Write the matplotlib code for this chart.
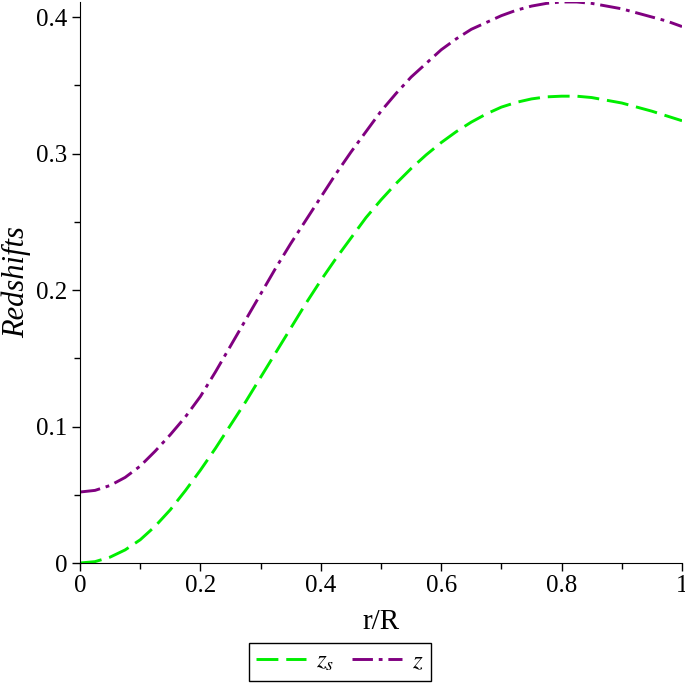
import matplotlib.pyplot as plt
from matplotlib.ticker import MultipleLocator, FormatStrFormatter

# values
r = [0, 0.025, 0.05, 0.075, 0.1, 0.125, 0.15, 0.175, 0.2, 0.225, 0.25,
     0.275, 0.3, 0.325, 0.35, 0.375, 0.4, 0.425, 0.45, 0.475, 0.5,
     0.525, 0.55, 0.575, 0.6, 0.625, 0.65, 0.675, 0.7, 0.725, 0.75,
     0.775, 0.8, 0.825, 0.85, 0.875, 0.9, 0.925, 0.95, 0.975, 1.0]
zs = [0, 0.001, 0.0043, 0.0096, 0.017, 0.027, 0.039, 0.053, 0.068, 0.084, 0.101,
      0.118, 0.136, 0.154, 0.172, 0.190, 0.207, 0.223, 0.238, 0.253, 0.266,
      0.278, 0.289, 0.299, 0.308, 0.316, 0.323, 0.329, 0.334, 0.3375, 0.340,
      0.3415, 0.342, 0.342, 0.341, 0.339, 0.337, 0.334, 0.331, 0.3275, 0.324]
z = [0.052, 0.0532, 0.0568, 0.0627, 0.071, 0.082, 0.094, 0.107, 0.122, 0.140, 0.159,
     0.178, 0.197, 0.216, 0.234, 0.251, 0.268, 0.285, 0.301, 0.316, 0.331,
     0.344, 0.356, 0.366, 0.376, 0.384, 0.391, 0.396, 0.401, 0.405, 0.408,
     0.410, 0.411, 0.411, 0.410, 0.408, 0.406, 0.403, 0.400, 0.397, 0.393]

plt.rcParams['font.family'] = 'serif'
plt.rcParams['font.serif'] = ['Liberation Serif', 'Times New Roman', 'DejaVu Serif']
plt.rcParams['mathtext.fontset'] = 'stix'

fig = plt.figure(figsize=(6.85, 6.88), dpi=100)
ax = fig.add_axes([80/685, 1 - 563/688, 602/685, 561/688])

ax.plot(r, zs, color='#00ee00', lw=2.1, linestyle=(0, (7.5, 2.7)), label='$z_s$')
ax.plot(r, z, color='#800080', lw=2.1, linestyle=(0, (7.0, 2.0, 1.3, 2.0)), label='$z$')

ax.set_xlim(0, 1)
ax.set_ylim(0, 0.411)
ax.spines['top'].set_visible(False)
ax.spines['right'].set_visible(False)
ax.xaxis.set_major_locator(MultipleLocator(0.2))
ax.xaxis.set_minor_locator(MultipleLocator(0.1))
ax.yaxis.set_major_locator(MultipleLocator(0.1))
ax.yaxis.set_minor_locator(MultipleLocator(0.05))
ax.xaxis.set_major_formatter(FormatStrFormatter('%g'))
ax.yaxis.set_major_formatter(FormatStrFormatter('%g'))
ax.tick_params(which='major', direction='out', length=6, width=1, labelsize=18, pad=3)
ax.tick_params(which='minor', direction='out', length=4, width=1)

ax.set_xlabel('r/R', fontsize=21, labelpad=8)
ax.set_ylabel('Redshifts', fontsize=22, style='italic', labelpad=4)

ax.legend(loc='upper center', bbox_to_anchor=(340/685, 1 - 643/688),
          bbox_transform=fig.transFigure, ncol=2, fontsize=18, frameon=True,
          fancybox=False, edgecolor='black', handlelength=2.0, columnspacing=0.7,
          handletextpad=0.4, borderpad=0.3, borderaxespad=0, framealpha=1)

fig.savefig('out.png', dpi=100)
